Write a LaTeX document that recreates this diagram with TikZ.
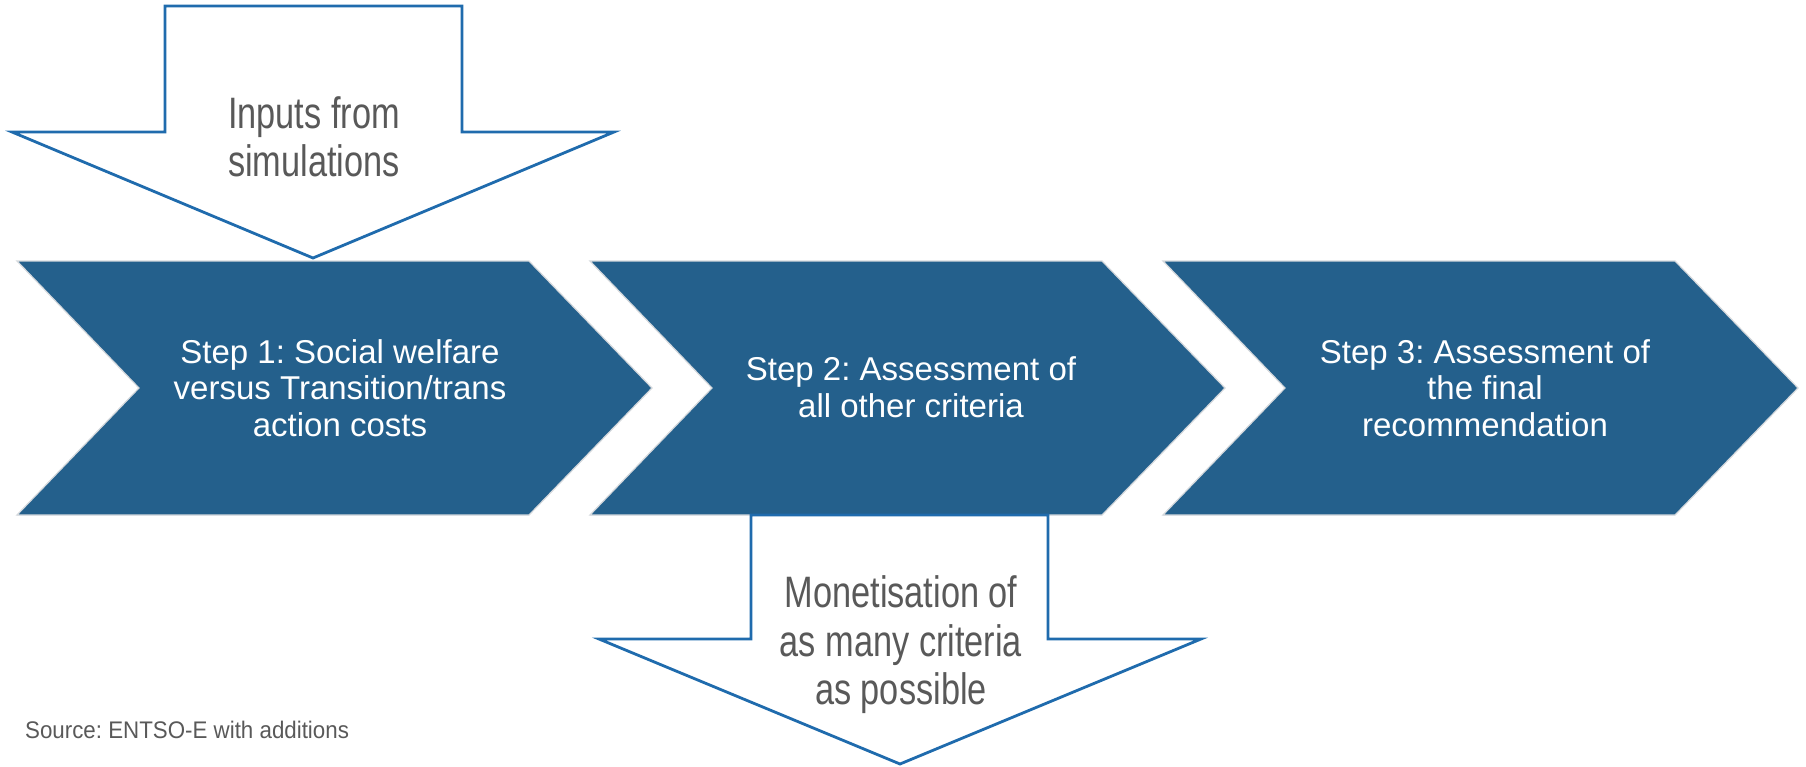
\documentclass[tikz,border=0pt]{standalone}
\usepackage{fontspec}
\setmainfont{Liberation Sans}
\newfontfamily\narrowfont[FakeStretch=0.78]{Liberation Sans}
\newfontfamily\srcfont[FakeStretch=0.93]{Liberation Sans}
\definecolor{stepblue}{HTML}{24608C}
\definecolor{arrowblue}{HTML}{1F6BAD}
\definecolor{edgegray}{HTML}{D4D8DC}
\definecolor{txtgray}{HTML}{595959}
\tikzset{
  chevron/.style={fill=stepblue, draw=edgegray, line width=1.2pt, line join=miter},
  downarrow/.style={fill=white, draw=arrowblue, line width=2.8pt, line join=miter},
  steptext/.style={text=white, align=center, font=\frenchspacing\fontsize{33}{36.5}\selectfont, inner sep=0pt},
  arrowtext/.style={text=txtgray, align=center, font=\frenchspacing\narrowfont\fontsize{44}{48.5}\selectfont, inner sep=0pt},
  srctext/.style={text=txtgray, anchor=west, font=\frenchspacing\srcfont\fontsize{24}{28}\selectfont, inner sep=0pt}
}
\begin{document}
\begin{tikzpicture}[x=1pt,y=-1pt]
\useasboundingbox (0,0) rectangle (1806,766);
% chevrons
\foreach \L in {17,590,1163}{
  \path[chevron] (\L,261) -- ++(512,0) -- ++(123,127) -- ++(-123,127) -- ++(-512,0) -- ++(122,-127) -- cycle;
}
% top input arrow
\path[downarrow] (165,6) -- (462,6) -- (462,132) -- (614,132) -- (313,258) -- (12,132) -- (165,132) -- cycle;
% bottom output arrow
\path[downarrow] (751,515) -- (1048,515) -- (1048,639) -- (1201,639) -- (900,764) -- (599,639) -- (751,639) -- cycle;
% texts
\node[arrowtext] (inputs) at (314,137) {Inputs from\\simulations};
\node[steptext] (step1) at (340,388) {Step 1: Social welfare\\versus Transition/trans\\action costs};
\node[steptext] (step2) at (911,387) {Step 2: Assessment of\\all other criteria};
\node[steptext] (step3) at (1485,388) {Step 3: Assessment of\\the final\\recommendation};
\node[arrowtext] (monet) at (901,645) {Monetisation of\\as many criteria\\as possible};
\node[srctext] (source) at (25,730) {Source: ENTSO-E with additions};
\end{tikzpicture}
\end{document}
